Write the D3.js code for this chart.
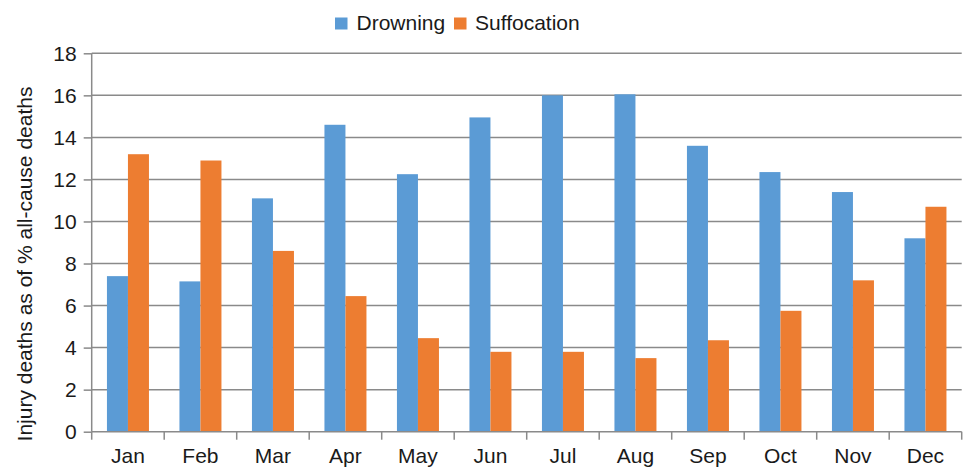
<!DOCTYPE html>
<html>
<head>
<meta charset="utf-8">
<script src="https://cdn.jsdelivr.net/npm/d3@7"></script>
<style>
  html, body { margin: 0; padding: 0; background: #fff; }
  svg { display: block; font-family: "Liberation Sans", Arial, sans-serif; }
</style>
</head>
<body>
<svg id="chart" width="964" height="468"></svg>
<script>
// Monthly injury deaths as a share of all-cause deaths
const months = ["Jan", "Feb", "Mar", "Apr", "May", "Jun", "Jul", "Aug", "Sep", "Oct", "Nov", "Dec"];
const seriesNames = ["Drowning", "Suffocation"];
const drowning = [7.4, 7.15, 11.1, 14.6, 12.25, 14.95, 16.0, 16.05, 13.6, 12.35, 11.4, 9.2];
const suffocation = [13.2, 12.9, 8.6, 6.45, 4.45, 3.8, 3.8, 3.5, 4.35, 5.75, 7.2, 10.7];
const yTicks = [0, 2, 4, 6, 8, 10, 12, 14, 16, 18];

const colors = ["#5b9bd5", "#ed7d31"];
const gridColor = "#8a8a8a";
const textColor = "#1a1a1a";

const svg = d3.select("#chart");
const plotLeft = 91.7, plotRight = 961.7, plotTop = 53.3, plotBottom = 431.7;

const x0 = d3.scaleBand().domain(months).range([plotLeft, plotRight]).padding(0);
const x1 = d3.scaleBand().domain(seriesNames).range([0, x0.bandwidth()])
  .paddingInner(0).paddingOuter(0.726);
const y = d3.scaleLinear().domain([0, 18]).range([plotBottom, plotTop]);

// horizontal gridlines
svg.append("g")
  .selectAll("line")
  .data(yTicks.filter(t => t > 0))
  .join("line")
  .attr("x1", plotLeft).attr("x2", plotRight)
  .attr("y1", d => y(d)).attr("y2", d => y(d))
  .attr("stroke", gridColor).attr("stroke-width", 1.5);

// bars
const rows = months.map((m, i) => ({ month: m, values: [drowning[i], suffocation[i]] }));
const groups = svg.append("g")
  .selectAll("g")
  .data(rows)
  .join("g")
  .attr("transform", d => `translate(${x0(d.month)},0)`);
groups.selectAll("rect")
  .data(d => d.values.map((v, k) => ({ key: seriesNames[k], value: v, k })))
  .join("rect")
  .attr("x", d => x1(d.key))
  .attr("width", x1.bandwidth())
  .attr("y", d => y(d.value))
  .attr("height", d => y(0) - y(d.value))
  .attr("fill", d => colors[d.k]);

// y axis
const yAxis = svg.append("g")
  .attr("transform", `translate(${plotLeft},0)`)
  .call(d3.axisLeft(y).tickValues(yTicks).tickSize(8).tickPadding(7).tickFormat(d3.format("d")));
yAxis.select(".domain").attr("stroke", gridColor).attr("stroke-width", 1.5).attr("d", `M0,${plotTop}V${plotBottom}`);
yAxis.selectAll(".tick line").attr("stroke", gridColor).attr("stroke-width", 1.5);
yAxis.selectAll(".tick text")
  .attr("fill", textColor).attr("font-size", 21)
  .attr("font-family", "'Liberation Sans', Arial, sans-serif");

// x axis: tick marks on band boundaries, labels centred in bands
const xAxisG = svg.append("g").attr("transform", `translate(0,${plotBottom})`);
xAxisG.append("line")
  .attr("x1", plotLeft).attr("x2", plotRight).attr("y1", 0).attr("y2", 0)
  .attr("stroke", gridColor).attr("stroke-width", 1.5);
const boundaries = months.map(m => x0(m)).concat([plotRight]);
xAxisG.selectAll("line.tk")
  .data(boundaries)
  .join("line")
  .attr("class", "tk")
  .attr("x1", d => d).attr("x2", d => d)
  .attr("y1", 0).attr("y2", 8)
  .attr("stroke", gridColor).attr("stroke-width", 1.5);
xAxisG.selectAll("text")
  .data(months)
  .join("text")
  .attr("x", d => x0(d) + x0.bandwidth() / 2)
  .attr("y", 31)
  .attr("text-anchor", "middle")
  .attr("font-size", 21)
  .attr("fill", textColor)
  .text(d => d);

// y axis title
svg.append("text")
  .attr("transform", "translate(32,264) rotate(-90)")
  .attr("text-anchor", "middle")
  .attr("font-size", 21)
  .attr("fill", textColor)
  .text("Injury deaths as of % all-cause deaths");

// legend
const legendItems = [
  { name: seriesNames[0], color: colors[0], sx: 335, tx: 356.5 },
  { name: seriesNames[1], color: colors[1], sx: 454, tx: 475 }
];
const legend = svg.append("g");
legend.selectAll("rect")
  .data(legendItems)
  .join("rect")
  .attr("x", d => d.sx).attr("y", 17.5)
  .attr("width", 12.5).attr("height", 12)
  .attr("fill", d => d.color);
legend.selectAll("text")
  .data(legendItems)
  .join("text")
  .attr("x", d => d.tx).attr("y", 30)
  .attr("font-size", 21)
  .attr("fill", textColor)
  .text(d => d.name);
</script>
</body>
</html>
